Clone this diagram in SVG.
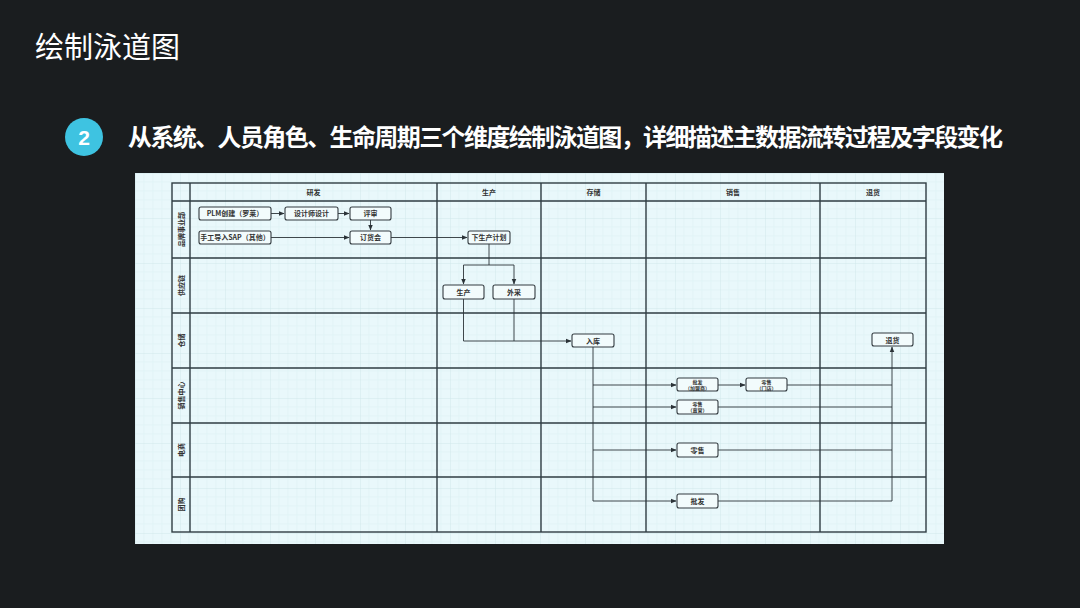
<svg xmlns="http://www.w3.org/2000/svg" width="1080" height="608" viewBox="0 0 1080 608">
<defs>
<pattern id="grid" x="135" y="173" width="45" height="45" patternUnits="userSpaceOnUse">
<path d="M9 0V45M18 0V45M27 0V45M36 0V45M0 9H45M0 18H45M0 27H45M0 36H45" stroke="#dcf0f3" stroke-width="0.6" fill="none"/>
<path d="M0 0V45M0 0H45" stroke="#cfe6ea" stroke-width="0.9" fill="none"/>
</pattern>
<marker id="arr" viewBox="0 0 10 10" refX="9" refY="5" markerWidth="6" markerHeight="6" orient="auto" markerUnits="userSpaceOnUse">
<path d="M0 1L10 5L0 9Z" fill="#2b3338"/>
</marker>
<style>
.pool{fill:none;stroke:#2f3d43;stroke-width:1.4}
.ln{fill:none;stroke:#2f3d43;stroke-width:1.4}
.nd{fill:#f2fbfc;stroke:#333b40;stroke-width:1.1}
.t{font-family:"Noto Sans CJK SC","Liberation Sans",sans-serif;font-size:7px;font-weight:bold;fill:#333;text-anchor:middle}
.ts{font-family:"Noto Sans CJK SC","Liberation Sans",sans-serif;font-size:5px;font-weight:bold;fill:#333;text-anchor:middle}
.c{fill:none;stroke:#2b3338;stroke-width:0.9}
</style>
</defs>
<rect width="1080" height="608" fill="#1a1d1f"/>
<text x="35" y="58" font-family="'Noto Sans CJK SC',sans-serif" font-size="29" fill="#ffffff">绘制泳道图</text>
<circle cx="84" cy="137" r="19" fill="#3ec3e1"/>
<text x="84" y="145" font-family="'Liberation Sans',sans-serif" font-size="21" font-weight="bold" fill="#ffffff" text-anchor="middle">2</text>
<text x="128" y="146" font-family="'Noto Sans CJK SC',sans-serif" font-size="24" font-weight="bold" fill="#ffffff" textLength="875">从系统、人员角色、生命周期三个维度绘制泳道图，详细描述主数据流转过程及字段变化</text>
<g id="panel">
<rect x="135" y="173" width="809" height="371" fill="#e9f8fb"/>
<rect x="135" y="173" width="809" height="371" fill="url(#grid)"/>
</g>
<g id="pool">
<rect class="pool" x="172" y="183" width="754" height="349"/>
<path class="ln" d="M172 201H926M190 183V532M437 183V532M541 183V532M646 183V532M820 183V532M172 258H926M172 313H926M172 368H926M172 423H926M172 477H926"/>
<text class="t" x="313.5" y="194.5">研发</text>
<text class="t" x="489" y="194.5">生产</text>
<text class="t" x="593.5" y="194.5">存储</text>
<text class="t" x="733" y="194.5">销售</text>
<text class="t" x="873" y="194.5">退货</text>
<text class="t" transform="translate(183.5 229.5) rotate(-90)">品牌事业部</text>
<text class="t" transform="translate(183.5 285.5) rotate(-90)">供应链</text>
<text class="t" transform="translate(183.5 340.5) rotate(-90)">仓储</text>
<text class="t" transform="translate(183.5 395.5) rotate(-90)">销售中心</text>
<text class="t" transform="translate(183.5 450) rotate(-90)">电商</text>
<text class="t" transform="translate(183.5 504.5) rotate(-90)">团购</text>
</g>
<g id="connectors">
<path class="c" d="M271 213.5H284" marker-end="url(#arr)"/>
<path class="c" d="M338 213.5H349" marker-end="url(#arr)"/>
<path class="c" d="M370.5 220V230" marker-end="url(#arr)"/>
<path class="c" d="M271 237.5H349" marker-end="url(#arr)"/>
<path class="c" d="M391 237.5H467" marker-end="url(#arr)"/>
<path class="c" d="M489 244V265H463.5V284" marker-end="url(#arr)"/>
<path class="c" d="M489 265H514V284" marker-end="url(#arr)"/>
<path class="c" d="M463.5 299V341H571" marker-end="url(#arr)"/>
<path class="c" d="M514 299V341"/>
<path class="c" d="M593 347V501H676" marker-end="url(#arr)"/>
<path class="c" d="M593 385H676" marker-end="url(#arr)"/>
<path class="c" d="M593 407H676" marker-end="url(#arr)"/>
<path class="c" d="M593 450H676" marker-end="url(#arr)"/>
<path class="c" d="M718 385H745" marker-end="url(#arr)"/>
<path class="c" d="M787 385H892"/>
<path class="c" d="M718 407H892"/>
<path class="c" d="M718 450H892"/>
<path class="c" d="M718 501H892V347" marker-end="url(#arr)"/>
</g>
<g id="n-plm"><rect class="nd" x="199" y="207" width="72" height="13" rx="2"/><text class="t" x="235" y="216">PLM创建（罗莱）</text></g>
<g id="n-design"><rect class="nd" x="285" y="207" width="53" height="13" rx="2"/><text class="t" x="311.5" y="216">设计师设计</text></g>
<g id="n-review"><rect class="nd" x="350" y="207" width="41" height="13" rx="2"/><text class="t" x="370.5" y="216">评审</text></g>
<g id="n-sap"><rect class="nd" x="199" y="231" width="72" height="13" rx="2"/><text class="t" x="235" y="240">手工导入SAP（其他）</text></g>
<g id="n-order"><rect class="nd" x="350" y="231" width="41" height="13" rx="2"/><text class="t" x="370.5" y="240">订货会</text></g>
<g id="n-plan"><rect class="nd" x="468" y="231" width="42" height="13" rx="2"/><text class="t" x="489" y="240">下生产计划</text></g>
<g id="n-prod"><rect class="nd" x="443" y="285" width="41" height="14" rx="2"/><text class="t" x="463.5" y="294.5">生产</text></g>
<g id="n-buy"><rect class="nd" x="493" y="285" width="42" height="14" rx="2"/><text class="t" x="514" y="294.5">外采</text></g>
<g id="n-in"><rect class="nd" x="572" y="334" width="42" height="13" rx="2"/><text class="t" x="593" y="343.5">入库</text></g>
<g id="n-return"><rect class="nd" x="872" y="333" width="41" height="13" rx="2"/><text class="t" x="892.5" y="342.5">退货</text></g>
<g id="n-whole1"><rect class="nd" x="677" y="378" width="41" height="13" rx="2"/><text class="ts" x="697.5" y="383.5">批发</text><text class="ts" x="697.5" y="389.6">（加盟商）</text></g>
<g id="n-retail1"><rect class="nd" x="746" y="378" width="41" height="13" rx="2"/><text class="ts" x="766.5" y="383.5">零售</text><text class="ts" x="766.5" y="389.6">（门店）</text></g>
<g id="n-retail2"><rect class="nd" x="677" y="400" width="41" height="14" rx="2"/><text class="ts" x="697.5" y="406">零售</text><text class="ts" x="697.5" y="412.1">（直营）</text></g>
<g id="n-retail3"><rect class="nd" x="677" y="443" width="41" height="14" rx="2"/><text class="t" x="697.5" y="452.5">零售</text></g>
<g id="n-whole2"><rect class="nd" x="677" y="494" width="41" height="14" rx="2"/><text class="t" x="697.5" y="503.5">批发</text></g>
</svg>
